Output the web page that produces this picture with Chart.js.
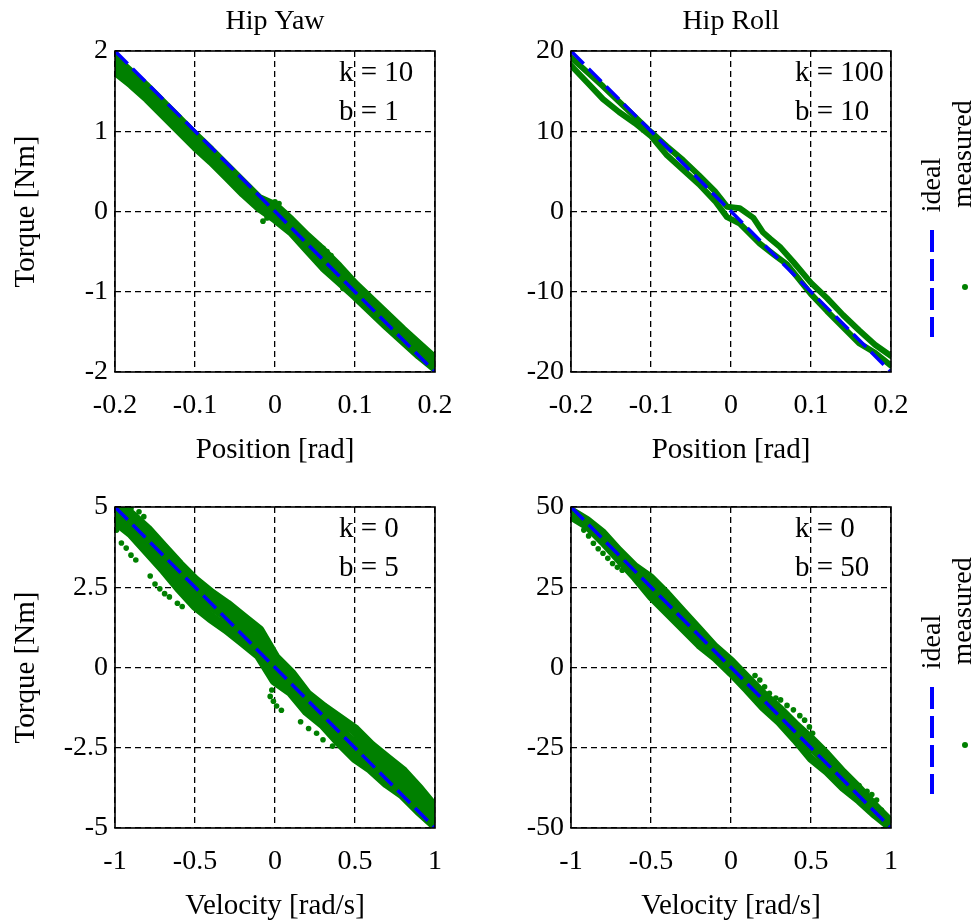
<!DOCTYPE html>
<html>
<head>
<meta charset="utf-8">
<title>Hip impedance tests</title>
<script src="https://cdn.jsdelivr.net/npm/chart.js@4.4.0/dist/chart.umd.min.js"></script>
<style>
  body { margin: 0; background: #fff; }
  #wrap { position: relative; width: 979px; height: 924px; overflow: hidden; font-family: 'Liberation Serif', 'Times New Roman', serif; }
  canvas { position: absolute; }
  .leg { position: absolute; font-size: 28px; line-height: 1; white-space: nowrap; color: #000;
         transform: translate(-50%, -50%) rotate(-90deg); }
  .dash { position: absolute; width: 4px; height: 107px;
          background: repeating-linear-gradient(to bottom, #0000ff 0 22px, transparent 22px 29px); }
  .dot { position: absolute; width: 6px; height: 6px; border-radius: 50%; background: #008000; }
</style>
</head>
<body>
<div id="wrap">
  <canvas id="yawPos" width="470" height="470" style="left:0;top:0"></canvas>
  <canvas id="rollPos" width="470" height="470" style="left:460px;top:0"></canvas>
  <canvas id="yawVel" width="470" height="464" style="left:0;top:460px"></canvas>
  <canvas id="rollVel" width="470" height="464" style="left:460px;top:460px"></canvas>

  <!-- legenda de cima -->
  <div class="leg" style="left:931px;top:185px">ideal</div>
  <div class="leg" style="left:962px;top:154px">measured</div>
  <div class="dash" style="left:930px;top:230px"></div>
  <div class="dot" style="left:962px;top:284px"></div>

  <!-- legenda de baixo -->
  <div class="leg" style="left:931px;top:642px">ideal</div>
  <div class="leg" style="left:962px;top:611px">measured</div>
  <div class="dash" style="left:930px;top:687px"></div>
  <div class="dot" style="left:962px;top:742px"></div>
</div>

<script>
Chart.defaults.font.family = "'Liberation Serif', 'Times New Roman', serif";
Chart.defaults.color = '#000';

const GREEN = '#008000';
const BLUE = '#0000ff';

// Ticks
const posTicks = [-0.2, -0.1, 0, 0.1, 0.2];
const velTicks = [-1, -0.5, 0, 0.5, 1];
const yawPosTicks = [-2, -1, 0, 1, 2];
const rollPosTicks = [-20, -10, 0, 10, 20];
const yawVelTicks = [-5, -2.5, 0, 2.5, 5];
const rollVelTicks = [-50, -25, 0, 25, 50];

// Linhas ideais (extremos)
const posEnds = [-0.2, 0.2];
const velEnds = [-1, 1];
const yawPosIdeal = [2, -2];
const rollPosIdeal = [20, -20];
const yawVelIdeal = [5, -5];
const rollVelIdeal = [50, -50];

// Grades de x para as faixas medidas
const posGrid = [-0.2, -0.18, -0.16, -0.14, -0.12, -0.1, -0.08, -0.06, -0.04, -0.02, 0, 0.02, 0.04, 0.06, 0.08, 0.1, 0.12, 0.14, 0.16, 0.18, 0.2];
const velGrid = [-1, -0.9, -0.8, -0.7, -0.6, -0.5, -0.4, -0.3, -0.2, -0.1, 0, 0.1, 0.2, 0.3, 0.4, 0.5, 0.6, 0.7, 0.8, 0.9, 1];

// Hip Yaw, posicao (k = 10, b = 1)
const yawPosUpper = [1.92, 1.74, 1.56, 1.36, 1.16, 0.96, 0.77, 0.57, 0.37, 0.17, 0.08, -0.10, -0.30, -0.48, -0.68, -0.90, -1.09, -1.28, -1.47, -1.65, -1.83];
const yawPosMid = [1.84, 1.66, 1.48, 1.28, 1.08, 0.89, 0.70, 0.50, 0.30, 0.10, -0.02, -0.18, -0.40, -0.58, -0.78, -0.98, -1.17, -1.36, -1.55, -1.72, -1.90];
const yawPosLower = [1.74, 1.58, 1.40, 1.20, 1.00, 0.80, 0.62, 0.42, 0.22, 0.04, -0.10, -0.26, -0.48, -0.70, -0.88, -1.06, -1.25, -1.44, -1.62, -1.80, -1.96];
const yawPosDotsX = [-0.015, -0.01, 0.0, 0.005, 0.055, 0.06, 0.065, 0.07, 0.085, 0.09];
const yawPosDotsT = [-0.12, -0.08, 0.12, 0.10, -0.42, -0.46, -0.50, -0.55, -0.96, -0.98];

// Hip Roll, posicao (k = 100, b = 10)
const rollPosUpperX = [-0.2, -0.18, -0.16, -0.14, -0.12, -0.1, -0.08, -0.06, -0.04, -0.02, -0.005, 0.011, 0.028, 0.04, 0.049, 0.061, 0.078, 0.1, 0.12, 0.14, 0.16, 0.18, 0.2];
const rollPosUpperT = [19.2, 17.4, 15.6, 13.7, 11.8, 9.9, 8.1, 6.4, 4.5, 2.5, 0.6, 0.4, -0.8, -2.6, -3.4, -4.4, -6.3, -8.9, -10.8, -12.9, -14.8, -16.6, -18.0];
const rollPosLowerX = [-0.2, -0.18, -0.16, -0.14, -0.12, -0.1, -0.08, -0.06, -0.04, -0.02, -0.005, 0.011, 0.036, 0.054, 0.07, 0.1, 0.12, 0.14, 0.16, 0.18, 0.2];
const rollPosLowerT = [18.2, 16.1, 14.0, 12.4, 11.0, 9.4, 7.0, 5.2, 3.4, 1.3, -0.7, -1.5, -4.0, -5.4, -6.6, -10.3, -12.4, -14.4, -16.4, -17.6, -19.2];

// Hip Yaw, velocidade (k = 0, b = 5)
const yawVelUpper = [5.0, 4.75, 4.3, 3.75, 3.2, 2.7, 2.3, 1.95, 1.55, 1.15, 0.3, -0.2, -0.85, -1.25, -1.6, -1.95, -2.45, -2.85, -3.25, -3.8, -4.4];
const yawVelMid = [4.8, 4.45, 4.0, 3.45, 2.85, 2.3, 1.95, 1.6, 1.15, 0.75, -0.05, -0.5, -1.1, -1.5, -1.95, -2.4, -2.8, -3.2, -3.6, -4.1, -4.65];
const yawVelLower = [4.6, 4.2, 3.65, 3.1, 2.5, 1.95, 1.55, 1.2, 0.8, 0.4, -0.4, -0.75, -1.35, -1.75, -2.3, -2.8, -3.15, -3.6, -3.95, -4.45, -4.9];
const yawVelDotsX = [-0.99, -0.96, -0.93, -0.9, -0.87, -0.78, -0.75, -0.72, -0.69, -0.66, -0.61, -0.58, -0.9, -0.85, -0.82, -0.03, -0.02, -0.01, 0.01, 0.04, 0.16, 0.21, 0.26, 0.3, 0.36];
const yawVelDotsT = [4.28, 3.88, 3.72, 3.5, 3.35, 2.85, 2.6, 2.45, 2.3, 2.2, 2.0, 1.9, 4.95, 4.85, 4.7, -0.9, -0.7, -1.05, -1.2, -1.33, -1.69, -1.9, -2.05, -2.25, -2.45];

// Hip Roll, velocidade (k = 0, b = 50)
const rollVelUpper = [49, 46, 42, 36.5, 31.5, 28, 23, 17.5, 12, 6.5, 2.2, -3, -8, -12.5, -17.5, -22, -27, -32.5, -37.5, -43, -48];
const rollVelMid = [48, 45, 40.5, 35, 30, 25, 20, 15, 9.5, 4.8, 0.2, -5, -10, -15, -20, -25, -30, -35, -40, -45, -49];
const rollVelLower = [47, 44, 39, 33.5, 28, 22, 17, 12, 7, 3, -1.8, -7, -12.5, -17, -22.5, -28.5, -32.5, -37.5, -41.5, -46, -50];
const rollVelDotsX = [-0.92, -0.89, -0.86, -0.83, -0.8, -0.77, -0.74, -0.71, -0.68, 0.15, 0.18, 0.21, 0.24, 0.28, 0.31, 0.35, 0.39, 0.43, 0.46, 0.49, 0.51, 0.76, 0.8, 0.85, 0.88, 0.91, 0.94, 0.96, 0.98];
const rollVelDotsT = [42.8, 41.0, 38.7, 37.0, 35.6, 34.0, 32.4, 31.2, 30.3, -2.5, -3.9, -6.0, -8.0, -9.5, -10.1, -11.8, -13.2, -15.0, -16.4, -18.5, -20.5, -35.5, -36.8, -38.6, -39.6, -41.3, -44.4, -46.0, -47.5];

function pontos(xs, ys) {
  return xs.map((x, i) => ({ x: x, y: ys[i] }));
}

// Caixa preta em volta da area e textos k/b
const caixaPlugin = {
  id: 'caixa',
  afterDatasetsDraw(chart, args, opts) {
    const ctx = chart.ctx;
    const a = chart.chartArea;
    ctx.save();
    ctx.fillStyle = '#000';
    ctx.font = "29px 'Liberation Serif'";
    ctx.textBaseline = 'middle';
    (opts.notes || []).forEach((t, i) => {
      ctx.fillText(t, a.left + 0.7 * (a.right - a.left), a.top + (0.07 + 0.12 * i) * (a.bottom - a.top));
    });
    ctx.strokeStyle = '#000';
    ctx.lineWidth = 1.6;
    ctx.strokeRect(a.left, a.top, a.right - a.left, a.bottom - a.top);
    ctx.restore();
  }
};

function criarPainel(id, p) {
  const datasets = [{
    data: pontos(p.idealX, p.idealY),
    showLine: true,
    borderColor: BLUE,
    borderWidth: 3.5,
    borderDash: [18, 7],
    pointRadius: 0,
    clip: 0
  }];
  p.strands.forEach(s => {
    datasets.push({
      data: pontos(s[0], s[1]),
      showLine: true,
      borderColor: GREEN,
      borderWidth: p.bandWidth,
      borderJoinStyle: 'round',
      borderCapStyle: 'round',
      pointRadius: 0,
      clip: 0
    });
  });
  if (p.dots) {
    datasets.push({
      data: pontos(p.dots[0], p.dots[1]),
      showLine: false,
      pointRadius: 2.8,
      backgroundColor: GREEN,
      borderWidth: 0,
      clip: 0
    });
  }

  const gridOpts = { color: '#000', lineWidth: 1.3, drawTicks: false };
  const borderOpts = { display: false, dash: [6, 4] };

  new Chart(document.getElementById(id), {
    type: 'scatter',
    data: { datasets: datasets },
    options: {
      responsive: false,
      animation: false,
      devicePixelRatio: 1,
      layout: { padding: { top: p.padTop, right: p.padRight, left: 0, bottom: 0 } },
      plugins: {
        legend: { display: false },
        tooltip: { enabled: false },
        title: {
          display: !!p.title,
          text: p.title || '',
          fullSize: false,
          color: '#000',
          font: { size: 28, weight: 'normal' },
          padding: { top: 5, bottom: 12.4 }
        },
        caixa: { notes: p.notes }
      },
      scales: {
        x: {
          type: 'linear',
          min: p.xTicks[0],
          max: p.xTicks[p.xTicks.length - 1],
          afterBuildTicks: s => { s.ticks = p.xTicks.map(v => ({ value: v })); },
          afterFit: s => { s.height = p.xAxisH; },
          ticks: { font: { size: 28 }, color: '#000', padding: 17, maxRotation: 0, autoSkip: false, callback: v => String(v) },
          grid: gridOpts,
          border: borderOpts,
          title: { display: true, text: p.xTitle, color: '#000', font: { size: 29 }, padding: { top: 0, bottom: p.xTitlePad } }
        },
        y: {
          type: 'linear',
          min: p.yTicks[0],
          max: p.yTicks[p.yTicks.length - 1],
          afterBuildTicks: s => { s.ticks = p.yTicks.map(v => ({ value: v })); },
          afterFit: s => { s.width = p.yAxisW; },
          ticks: { font: { size: 28 }, color: '#000', padding: 7, autoSkip: false, callback: v => String(v) },
          grid: gridOpts,
          border: borderOpts,
          title: { display: !!p.yTitle, text: p.yTitle || '', color: '#000', font: { size: 29 }, padding: { top: 9, bottom: 0 } }
        }
      }
    },
    plugins: [caixaPlugin]
  });
}

criarPainel('yawPos', {
  title: 'Hip Yaw', xTitle: 'Position [rad]', yTitle: 'Torque [Nm]',
  xTicks: posTicks, yTicks: yawPosTicks, notes: ['k = 10', 'b = 1'],
  idealX: posEnds, idealY: yawPosIdeal,
  strands: [[posGrid, yawPosUpper], [posGrid, yawPosMid], [posGrid, yawPosLower]],
  dots: [yawPosDotsX, yawPosDotsT], bandWidth: 8,
  padTop: 0, padRight: 35, yAxisW: 115, xAxisH: 98, xTitlePad: 2.6
});

criarPainel('rollPos', {
  title: 'Hip Roll', xTitle: 'Position [rad]', yTitle: null,
  xTicks: posTicks, yTicks: rollPosTicks, notes: ['k = 100', 'b = 10'],
  idealX: posEnds, idealY: rollPosIdeal,
  strands: [[rollPosUpperX, rollPosUpperT], [rollPosLowerX, rollPosLowerT]],
  dots: null, bandWidth: 6,
  padTop: 0, padRight: 39, yAxisW: 111, xAxisH: 98, xTitlePad: 2.6
});

criarPainel('yawVel', {
  title: null, xTitle: 'Velocity [rad/s]', yTitle: 'Torque [Nm]',
  xTicks: velTicks, yTicks: yawVelTicks, notes: ['k = 0', 'b = 5'],
  idealX: velEnds, idealY: yawVelIdeal,
  strands: [[velGrid, yawVelUpper], [velGrid, yawVelMid], [velGrid, yawVelLower]],
  dots: [yawVelDotsX, yawVelDotsT], bandWidth: 11,
  padTop: 47, padRight: 35, yAxisW: 115, xAxisH: 96, xTitlePad: 0
});

criarPainel('rollVel', {
  title: null, xTitle: 'Velocity [rad/s]', yTitle: null,
  xTicks: velTicks, yTicks: rollVelTicks, notes: ['k = 0', 'b = 50'],
  idealX: velEnds, idealY: rollVelIdeal,
  strands: [[velGrid, rollVelUpper], [velGrid, rollVelMid], [velGrid, rollVelLower]],
  dots: [rollVelDotsX, rollVelDotsT], bandWidth: 8,
  padTop: 47, padRight: 39, yAxisW: 111, xAxisH: 96, xTitlePad: 0
});
</script>
</body>
</html>
